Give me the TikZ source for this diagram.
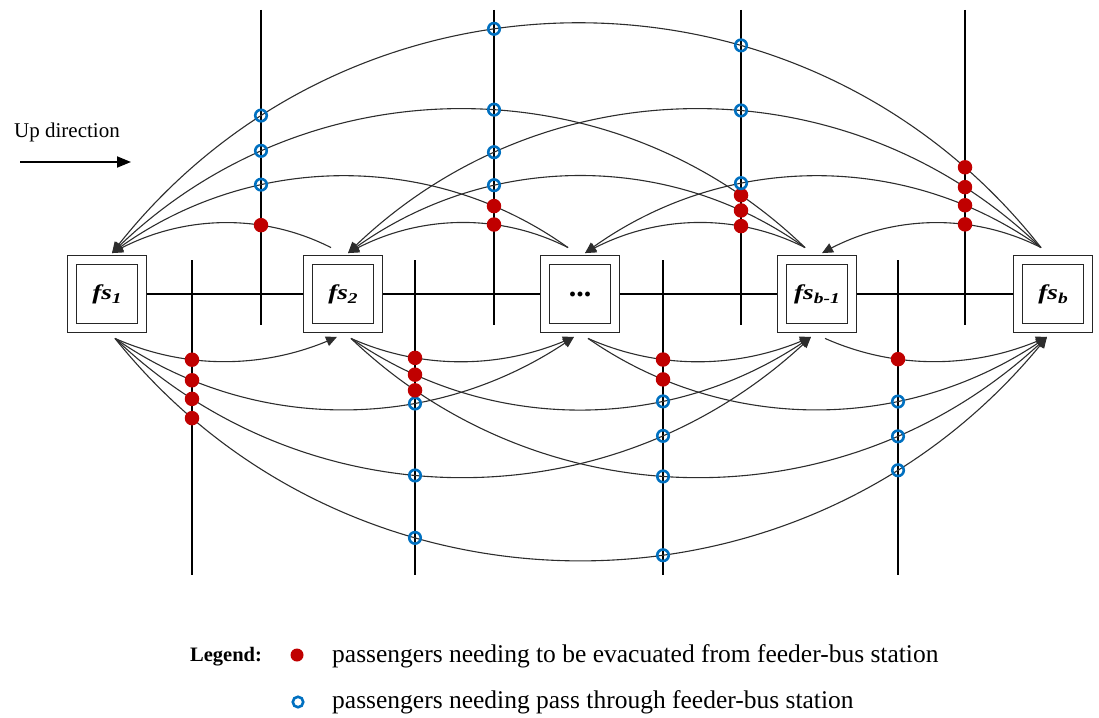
\documentclass[tikz,border=0pt]{standalone}
\usepackage{fontspec}
\setmainfont{Liberation Serif}
\usetikzlibrary{arrows.meta,intersections,calc,bending}

\definecolor{evacred}{RGB}{192,0,0}
\definecolor{passblue}{RGB}{0,112,192}
\definecolor{flowgray}{RGB}{45,45,45}

\newcommand\fslab[1]{\scalebox{1.3}[1]{\bfseries\itshape fs\raisebox{-0.22em}{\fontsize{15}{15}\selectfont #1}}}

\tikzset{
  station/.style={draw=black!85, double=white, double distance=8.6pt, line width=1.1pt,
    minimum width=70pt, minimum height=68pt, outer sep=5.4pt, inner sep=0pt,
    font=\fontsize{21}{21}\selectfont},
  trunk/.style={line width=1.8pt, black},
  feeder/.style={line width=2pt, black},
  flow/.style={line width=1.1pt, flowgray, -{Triangle[length=11pt,width=10pt]}},
  evac/.style={circle, fill=evacred, minimum size=14.5pt, inner sep=0pt},
  pass/.style={circle, draw=passblue, line width=2.6pt, minimum size=11.5pt, inner sep=0pt},
  legendtext/.style={anchor=west, inner sep=0pt, font=\fontsize{25.5}{25.5}\selectfont},
}

\begin{document}
\begin{tikzpicture}[x=1pt,y=1pt]
\useasboundingbox (0,0) rectangle (1099,-717);

% feeder-bus stations
\node[station] (n1) at (107,-294) {\fslab{1}};
\node[station] (n2) at (343,-294) {\fslab{2}};
\node[station] (n3) at (580,-294) {\fontsize{30}{30}\selectfont\bfseries ...};
\node[station] (n4) at (817,-294) {\fslab{b-1}};
\node[station] (n5) at (1053,-294) {\fslab{b}};

% trunk line through the stations
\draw[trunk] (n1) -- (n2);
\draw[trunk] (n2) -- (n3);
\draw[trunk] (n3) -- (n4);
\draw[trunk] (n4) -- (n5);

% feeder lines crossing the trunk (upper side and lower side)
\foreach \k/\x in {1/261,2/494,3/741,4/965}{
  \coordinate (ut\k) at (\x,-10);
  \coordinate (ub\k) at (\x,-325);
  \draw[feeder, name path global=uv\k] (ut\k) -- (ub\k);
}
\foreach \k/\x in {1/192,2/415,3/663,4/898}{
  \coordinate (lt\k) at (\x,-260);
  \coordinate (lb\k) at (\x,-575);
  \draw[feeder, name path global=lv\k] (lt\k) -- (lb\k);
}

% ports of each station
\foreach \i in {1,...,5}{
  \coordinate (n\i-uo) at ($(n\i.north)+(-12,7)$);
  \coordinate (n\i-ui) at ($(n\i.north)+(5,1.5)$);
  \coordinate (n\i-lo) at ($(n\i.south)+(8,-5)$);
  \coordinate (n\i-li) at ($(n\i.south)+(-6,-3.5)$);
}

% down-direction flows (above the trunk): near-circular arcs
\foreach \i in {2,3,4,5}{
  \pgfmathtruncatemacro\jmax{\i-1}
  \foreach \j in {1,...,\jmax}{
    \pgfmathtruncatemacro\gap{\i-\j}
    \pgfmathsetmacro\bend{{28.4,36.3,44.5,52.2}[\gap-1]}
    \pgfmathsetmacro\loose{{0.906,0.942,0.994,1.056}[\gap-1]}
    \draw[flow, name path global=up-\i-\j] (n\i-uo)
      to[bend right=\bend, looseness=\loose] (n\j-ui);
  }
}

% up-direction flows (below the trunk)
\foreach \i in {1,2,3,4}{
  \pgfmathtruncatemacro\jmin{\i+1}
  \foreach \j in {\jmin,...,5}{
    \pgfmathtruncatemacro\gap{\j-\i}
    \pgfmathsetmacro\bend{{24.4,35,43.8,51.4}[\gap-1]}
    \pgfmathsetmacro\loose{{0.892,0.935,0.99,1.048}[\gap-1]}
    \draw[flow, name path global=lo-\i-\j] (n\i-lo)
      to[bend right=\bend, looseness=\loose] (n\j-li);
  }
}

% passenger markers where flows cross the feeder lines
\foreach \i in {2,3,4,5}{
  \pgfmathtruncatemacro\jmax{\i-1}
  \foreach \j in {1,...,\jmax}{
    \foreach \k in {\j,...,\jmax}{
      \ifnum\k=\jmax\def\mst{evac}\else\def\mst{pass}\fi
      \edef\mark{\noexpand\path[name intersections={of=up-\i-\j\space and uv\k}]
        (intersection-1) node[\mst]{};}
      \mark
    }
  }
}
\foreach \i in {1,2,3,4}{
  \pgfmathtruncatemacro\jmin{\i+1}
  \foreach \j in {\jmin,...,5}{
    \pgfmathtruncatemacro\kmax{\j-1}
    \foreach \k in {\i,...,\kmax}{
      \ifnum\k=\i\def\mst{evac}\else\def\mst{pass}\fi
      \edef\mark{\noexpand\path[name intersections={of=lo-\i-\j\space and lv\k}]
        (intersection-1) node[\mst]{};}
      \mark
    }
  }
}

% direction indicator
\node[anchor=west, inner sep=0pt, font=\fontsize{21}{21}\selectfont] (updir) at (14,-132) {Up direction};
\coordinate (dirA) at (20,-162);
\coordinate (dirB) at (131,-162);
\draw[line width=1.8pt, -{Triangle[length=14pt,width=11pt]}] (dirA) -- (dirB);

% legend
\node[anchor=west, inner sep=0pt, font=\fontsize{20.5}{20.5}\selectfont\bfseries] (lgd) at (190,-657) {Legend:};
\node[evac, minimum size=13pt] (lgred) at (297,-655) {};
\node[pass, minimum size=10.5pt] (lgblue) at (298,-702) {};
\node[legendtext] (lgt1) at (332,-656) {passengers needing to be evacuated from feeder-bus station};
\node[legendtext] (lgt2) at (332,-702) {passengers needing pass through feeder-bus station};
\end{tikzpicture}
\end{document}
